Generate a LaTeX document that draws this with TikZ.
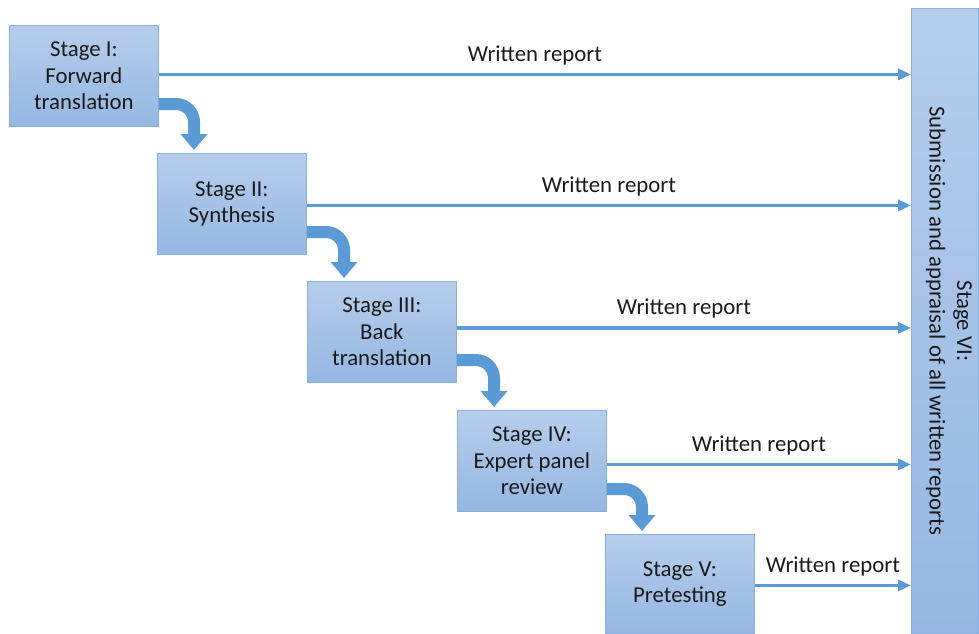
\documentclass[tikz,border=0pt]{standalone}
\usepackage{fontspec}
\setmainfont{Carlito}
\usetikzlibrary{arrows.meta,calc}
\definecolor{boxtop}{HTML}{B5CEEB}
\definecolor{boxbot}{HTML}{95B7E1}
\definecolor{boxline}{HTML}{8AB0DE}
\definecolor{flow}{HTML}{5B9BD5}
\definecolor{ink}{HTML}{1A1A1A}
\begin{document}
\begin{tikzpicture}[x=1pt,y=-1pt,
  stagebox/.style={draw=boxline, line width=0.8pt, top color=boxtop, bottom color=boxbot,
    minimum width=149pt, minimum height=101pt, inner sep=0pt, anchor=north west,
    align=center, text=ink, font=\fontsize{22.8}{26.7}\selectfont},
  report/.style={draw=flow, line width=3.2pt, -{Triangle[length=13pt,width=11pt]}},
  reportlabel/.style={midway, anchor=base, yshift=13pt, text=ink, inner sep=0pt,
    font=\fontsize{22.8}{26.7}\selectfont},
  handoff/.style={draw=flow, line width=12pt, rounded corners=18pt,
    -{Triangle[length=16pt,width=26pt]}}]
\useasboundingbox (0,0) rectangle (979,633);

% stages I--V, stepping down to the right
\node[stagebox] (s1) at (9,25)   {Stage I:\\Forward\\translation};
\node[stagebox] (s2) at (157,153) {Stage II:\\Synthesis};
\node[stagebox] (s3) at (307,281) {Stage III:\\Back\\translation};
\node[stagebox] (s4) at (457,410) {Stage IV:\\Expert panel\\review};
\node[stagebox, minimum height=99pt] (s5) at (605,534) {Stage V:\\Pretesting};

% stage VI, the tall column on the right
\node[draw=boxline, line width=0.8pt, top color=boxtop, bottom color=boxbot,
  minimum width=67pt, minimum height=625pt, inner sep=0pt, anchor=north west]
  (s6frame) at (911,8) {};
\node[rotate=-90, align=center, text=ink, font=\fontsize{22.8}{27.5}\selectfont]
  (s6) at ($(s6frame.center)+(4,0)$) {Stage VI:\\Submission and appraisal of all written reports};

% where each written report leaves its stage
\coordinate (r1) at ($(s1.east)+(0,-1.5)$);
\coordinate (r2) at ($(s2.east)+(0,1.5)$);
\coordinate (r3) at ($(s3.east)+(0,-4)$);
\coordinate (r4) at ($(s4.east)+(0,3.5)$);
\coordinate (r5) at ($(s5.east)+(0,1.5)$);

% written reports sent to stage VI
\foreach \r in {r1,r2,r3,r4,r5}
  \draw[report] (\r) -- (\r -| s6frame.west) node[reportlabel] {Written report};

% hand-offs from one stage to the next
\coordinate (h1) at ($(s1.north east)+(0,79)$);
\coordinate (h2) at ($(s2.north east)+(0,79)$);
\coordinate (h3) at ($(s3.north east)+(0,79)$);
\coordinate (h4) at ($(s4.north east)+(0,79)$);
\coordinate (t2) at ($(s2.north west)+(37,-3)$);
\coordinate (t3) at ($(s3.north west)+(37,-3)$);
\coordinate (t4) at ($(s4.north west)+(37,-3)$);
\coordinate (t5) at ($(s5.north west)+(37,-3)$);
\draw[handoff] (h1) -| (t2);
\draw[handoff] (h2) -| (t3);
\draw[handoff] (h3) -| (t4);
\draw[handoff] (h4) -| (t5);
\end{tikzpicture}
\end{document}
